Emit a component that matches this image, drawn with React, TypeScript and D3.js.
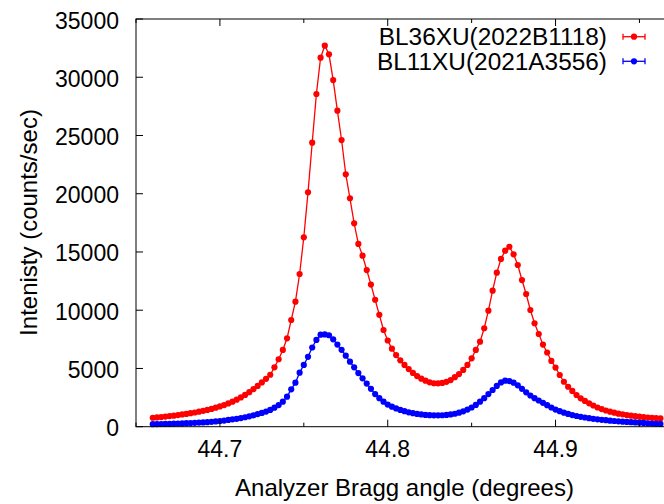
import React from 'react';
import * as d3 from 'd3';

// analyzer angle scan (degrees)
const angles = [
  44.66, 44.6625, 44.665, 44.6675, 44.67, 44.6725, 44.675, 44.6775,
  44.68, 44.6825, 44.685, 44.6875, 44.69, 44.6925, 44.695, 44.6975,
  44.70, 44.7025, 44.705, 44.7075, 44.71, 44.7125, 44.715, 44.7175,
  44.72, 44.7225, 44.725, 44.7275, 44.73, 44.7325, 44.735, 44.7375,
  44.74, 44.7425, 44.745, 44.7475, 44.75, 44.7525, 44.755, 44.7575,
  44.76, 44.7625, 44.765, 44.7675, 44.77, 44.7725, 44.775, 44.7775,
  44.78, 44.7825, 44.785, 44.7875, 44.79, 44.7925, 44.795, 44.7975,
  44.80, 44.8025, 44.805, 44.8075, 44.81, 44.8125, 44.815, 44.8175,
  44.82, 44.8225, 44.825, 44.8275, 44.83, 44.8325, 44.835, 44.8375,
  44.84, 44.8425, 44.845, 44.8475, 44.85, 44.8525, 44.855, 44.8575,
  44.86, 44.8625, 44.865, 44.8675, 44.87, 44.8725, 44.875, 44.8775,
  44.88, 44.8825, 44.885, 44.8875, 44.89, 44.8925, 44.895, 44.8975,
  44.90, 44.9025, 44.905, 44.9075, 44.91, 44.9125, 44.915, 44.9175,
  44.92, 44.9225, 44.925, 44.9275, 44.93, 44.9325, 44.935, 44.9375,
  44.94, 44.9425, 44.945, 44.9475, 44.95, 44.9525, 44.955, 44.9575,
  44.96, 44.9625,
];

// BL36XU(2022B1118)
const bl36 = [
  770, 800, 830, 870, 910, 950, 1000, 1050,
  1100, 1160, 1220, 1290, 1360, 1440, 1530, 1630,
  1740, 1860, 2000, 2150, 2320, 2510, 2730, 2960,
  3230, 3500, 3800, 4110, 4460, 5100, 5790, 6590,
  7590, 9160, 10730, 13110, 16260, 20120, 24380, 28560,
  31680, 32710, 31970, 29760, 27130, 24610, 21670, 19610,
  17460, 15690, 14680, 13450, 12200, 10900, 9600, 8300,
  7400, 6700, 6150, 5700, 5300, 4950, 4620, 4350,
  4120, 3950, 3810, 3730, 3720, 3760, 3850, 4000,
  4250, 4520, 4870, 5300, 5870, 6590, 7300, 8450,
  9960, 11680, 13220, 14400, 15110, 15450, 14800, 13880,
  12590, 11390, 10020, 8880, 7960, 7050, 6370, 5650,
  5080, 4440, 3860, 3430, 3070, 2720, 2440, 2210,
  2010, 1820, 1650, 1510, 1390, 1290, 1200, 1120,
  1060, 1000, 950, 900, 860, 820, 790, 760,
  730, 710,
];

// BL11XU(2021A3556)
const bl11 = [
  220, 225, 230, 240, 250, 260, 270, 285,
  300, 315, 330, 350, 370, 390, 420, 450,
  490, 530, 580, 630, 680, 740, 810, 890,
  980, 1080, 1180, 1300, 1440, 1630, 1860, 2150,
  2580, 3210, 3780, 4640, 5300, 6000, 6800, 7450,
  7900, 7920, 7850, 7500, 7050, 6600, 6100, 5580,
  5100, 4600, 4150, 3700, 3250, 2800, 2450, 2150,
  1900, 1720, 1570, 1440, 1330, 1230, 1160, 1100,
  1050, 1010, 990, 980, 975, 985, 1010, 1050,
  1110, 1200, 1320, 1470, 1650, 1870, 2150, 2450,
  2800, 3150, 3500, 3800, 3950, 3920, 3780, 3550,
  3250, 2950, 2680, 2450, 2250, 2050, 1850, 1650,
  1470, 1330, 1200, 1100, 1000, 920, 850, 790,
  730, 680, 630, 590, 560, 520, 490, 460,
  430, 410, 390, 365, 345, 320, 295, 275,
  255, 235,
];

const seriesNames = ['BL36XU(2022B1118)', 'BL11XU(2021A3556)'];
const seriesColors = ['#ff0000', '#0000ff'];
const xMajorTicks = [44.7, 44.8, 44.9];
const xMinorTicks = [44.65, 44.75, 44.85, 44.95];
const yTicks = [0, 5000, 10000, 15000, 20000, 25000, 30000, 35000];

export default function App() {
  const ref = React.useRef(null);

  const width = 664;
  const height = 504;
  const left = 136, right = 673, top = 19, bottom = 426.7;
  const font = '"Liberation Sans", Arial, sans-serif';

  React.useEffect(() => {
    const svg = d3.select(ref.current);
    svg.selectAll('*').remove();

    const x = d3.scaleLinear().domain([44.65, 44.97]).range([left, right]);
    const y = d3.scaleLinear().domain([0, 35000]).range([bottom, top]);

    const series = [bl36, bl11].map((vals, i) => ({
      name: seriesNames[i],
      color: seriesColors[i],
      points: angles.map((a, j) => [a, vals[j]]),
    }));

    const line = d3.line().x(d => x(d[0])).y(d => y(d[1]));

    series.forEach(s => {
      const g = svg.append('g');
      g.append('path')
        .attr('d', line(s.points))
        .attr('fill', 'none')
        .attr('stroke', s.color)
        .attr('stroke-width', 1.3);
      g.selectAll('circle')
        .data(s.points)
        .enter()
        .append('circle')
        .attr('cx', d => x(d[0]))
        .attr('cy', d => y(d[1]))
        .attr('r', 3.1)
        .attr('fill', s.color);
    });

    // border
    const axes = svg.append('g').attr('stroke', '#000').attr('stroke-width', 1);
    axes.append('rect')
      .attr('x', left).attr('y', top)
      .attr('width', right - left).attr('height', bottom - top)
      .attr('fill', 'none');

    // x ticks, bottom and top, pointing inward
    xMajorTicks.forEach(t => {
      axes.append('line').attr('x1', x(t)).attr('x2', x(t)).attr('y1', bottom).attr('y2', bottom - 7);
      axes.append('line').attr('x1', x(t)).attr('x2', x(t)).attr('y1', top).attr('y2', top + 7);
    });
    xMinorTicks.forEach(t => {
      axes.append('line').attr('x1', x(t)).attr('x2', x(t)).attr('y1', bottom).attr('y2', bottom - 4);
      axes.append('line').attr('x1', x(t)).attr('x2', x(t)).attr('y1', top).attr('y2', top + 4);
    });
    yTicks.forEach(t => {
      axes.append('line').attr('x1', left).attr('x2', left + 7).attr('y1', y(t)).attr('y2', y(t));
      axes.append('line').attr('x1', right).attr('x2', right - 7).attr('y1', y(t)).attr('y2', y(t));
    });

    const labels = svg.append('g').attr('font-family', font).attr('fill', '#000');

    labels.selectAll('text.xt')
      .data(xMajorTicks)
      .enter()
      .append('text')
      .attr('class', 'xt')
      .attr('x', d => x(d))
      .attr('y', bottom + 30)
      .attr('text-anchor', 'middle')
      .attr('font-size', 23)
      .text(d => d3.format('.1f')(d));

    labels.selectAll('text.yt')
      .data(yTicks)
      .enter()
      .append('text')
      .attr('class', 'yt')
      .attr('x', left - 17)
      .attr('y', d => y(d) + 9.5)
      .attr('text-anchor', 'end')
      .attr('font-size', 23)
      .text(d => d);

    labels.append('text')
      .attr('x', (left + right) / 2)
      .attr('y', 495.5)
      .attr('text-anchor', 'middle')
      .attr('font-size', 24)
      .text('Analyzer Bragg angle (degrees)');

    labels.append('text')
      .attr('transform', 'translate(36.5,222.5) rotate(-90)')
      .attr('text-anchor', 'middle')
      .attr('font-size', 24)
      .text('Intenisty (counts/sec)');

    // legend
    series.forEach((s, i) => {
      const ly = 36.7 + i * 24.6;
      labels.append('text')
        .attr('x', 607)
        .attr('y', ly + 8.7)
        .attr('text-anchor', 'end')
        .attr('font-size', 24.4)
        .text(s.name);
      const lg = svg.append('g').attr('stroke', s.color).attr('stroke-width', 1.3);
      lg.append('line').attr('x1', 623).attr('x2', 645).attr('y1', ly).attr('y2', ly);
      lg.append('line').attr('x1', 623).attr('x2', 623).attr('y1', ly - 3).attr('y2', ly + 3);
      lg.append('line').attr('x1', 645).attr('x2', 645).attr('y1', ly - 3).attr('y2', ly + 3);
      svg.append('circle').attr('cx', 634).attr('cy', ly).attr('r', 3.1).attr('fill', s.color);
    });
  }, []);

  return (
    <svg
      ref={ref}
      width={width}
      height={height}
      style={{ position: 'absolute', left: 0, top: 0, background: '#fff' }}
    />
  );
}
